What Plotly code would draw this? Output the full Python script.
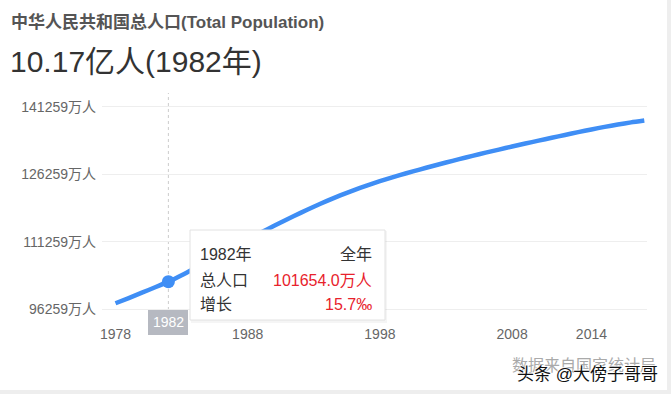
import plotly.graph_objects as go

years = list(range(1978, 2019))
population = [97600, 98750, 99950, 101150, 102400, 103850, 105400, 106980, 108580, 110180,
              111760, 113300, 114800, 116260, 117680, 119050, 120350, 121570, 122700, 123750,
              124720, 125630, 126490, 127310, 128100, 128870, 129620, 130350, 131060, 131750,
              132425, 133085, 133735, 134375, 135005, 135625, 136225, 136795, 137325, 137795,
              138205]
ytick_vals = [96259, 111259, 126259, 141259]
ytick_text = ["96259万人", "111259万人", "126259万人", "141259万人"]
xtick_vals = [1978, 1988, 1998, 2008, 2014]
xtick_text = ["1978", "1988", "1998", "2008", "2014"]
hover_year = 1982
hover_value = population[years.index(hover_year)]

FONT = "Liberation Sans, Arial, Noto Sans CJK SC, sans-serif"
BLUE = "#3f8ef5"

fig = go.Figure()
fig.add_trace(go.Scatter(x=years, y=population, mode="lines",
                         line=dict(color=BLUE, width=4.5, shape="spline", smoothing=0.6),
                         hoverinfo="skip", showlegend=False))
fig.add_trace(go.Scatter(x=[hover_year], y=[hover_value], mode="markers",
                         marker=dict(color=BLUE, size=13),
                         hoverinfo="skip", showlegend=False))

W, H = 671, 394
L, R, T, B = 102, 24, 95, 79
PW, PH = W - L - R, H - T - B

def px(xp):
    return (xp - L) / PW

def py(yp):
    return 1 - (yp - T) / PH

fig.update_layout(
    width=W, height=H,
    margin=dict(l=L, r=R, t=T, b=B),
    paper_bgcolor="white", plot_bgcolor="white",
    font=dict(family=FONT, color="#666", size=14),
    xaxis=dict(range=[1976.979, 2018.204], tickvals=xtick_vals, ticktext=xtick_text,
               showgrid=False, zeroline=False, showline=False, ticks="",
               tickfont=dict(size=14, color="#666"), ticklabelstandoff=9),
    yaxis=dict(range=[94992, 143877], tickvals=ytick_vals, ticktext=ytick_text,
               showgrid=True, gridcolor="#eeeeee", gridwidth=1, zeroline=False,
               showline=False, ticks="", tickfont=dict(size=14, color="#666"),
               ticklabelstandoff=5),
)

shapes = [
    dict(type="line", xref="x", yref="paper", x0=hover_year, x1=hover_year,
         y0=py(310), y1=py(93), line=dict(color="#cccccc", width=1, dash="dot"), layer="below"),
    dict(type="rect", xref="paper", yref="paper", x0=px(148), x1=px(188),
         y0=py(335), y1=py(310), fillcolor="#b6b9c1", line=dict(width=0), layer="above"),
    dict(type="rect", xref="paper", yref="paper", x0=px(191), x1=px(387),
         y0=py(323), y1=py(231), fillcolor="rgba(0,0,0,0.04)", line=dict(width=0), layer="above"),
    dict(type="rect", xref="paper", yref="paper", x0=px(190), x1=px(385),
         y0=py(320), y1=py(230), fillcolor="white", line=dict(color="#e2e2e2", width=1), layer="above"),
    dict(type="rect", xref="paper", yref="paper", x0=px(667), x1=px(671),
         y0=py(394), y1=py(0), fillcolor="#eeeeee", line=dict(width=0), layer="below"),
    dict(type="rect", xref="paper", yref="paper", x0=px(0), x1=px(671),
         y0=py(394), y1=py(390), fillcolor="#eeeeee", line=dict(width=0), layer="below"),
]
fig.update_layout(shapes=shapes)

ann = []
def text(s, x, y, size, color, xanchor="left", bold=False, **kw):
    ann.append(dict(text=f"<b>{s}</b>" if bold else s, xref="paper", yref="paper",
                    x=px(x), y=py(y), xanchor=xanchor, yanchor="middle", showarrow=False,
                    font=dict(size=size, color=color, family=FONT, **kw)))

text("中华人民共和国总人口(Total Population)", 9, 22, 17, "#555555", bold=True)
text("10.17亿人(1982年)", 8, 61, 30, "#333333")
text("1982", 168, 322, 14, "white", xanchor="center")
text("1982年", 198, 254, 16, "#333333")
text("全年", 374, 254, 16, "#333333", xanchor="right")
text("总人口", 198, 280, 16, "#333333")
text("101654.0万人", 374, 280, 16, "#e8222c", xanchor="right")
text("增长", 198, 304, 16, "#333333")
text("15.7‰", 374, 304, 16, "#e8222c", xanchor="right")
text("数据来自国家统计局", 658, 365, 16, "#aaaaaa", xanchor="right")
text("头条 @大傍子哥哥", 660, 374, 17, "#111111", xanchor="right",
     shadow="1px 1px 1px white, -1px -1px 1px white")
fig.update_layout(annotations=ann)

fig.write_html("out.html", config={"displayModeBar": False},
               post_script="document.body.style.margin='0px';")
